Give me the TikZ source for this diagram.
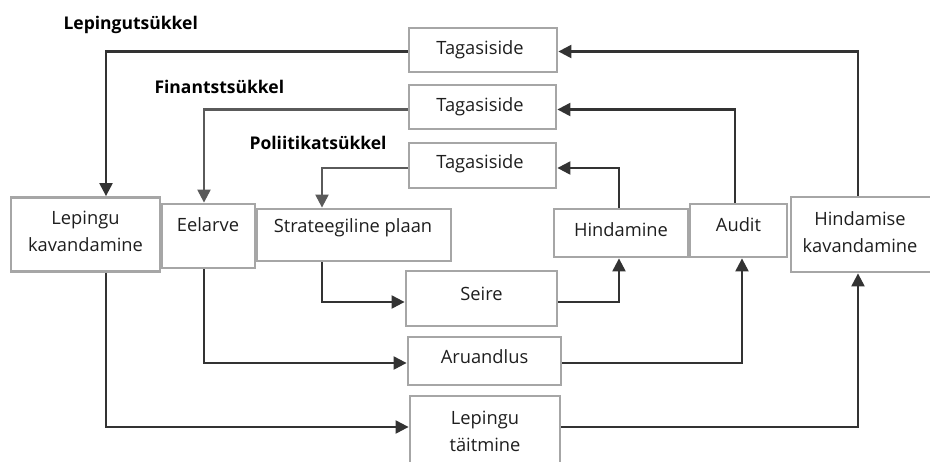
\documentclass[tikz,border=0pt]{standalone}
\usepackage{fontspec}
\setmainfont{Open Sans}
\usetikzlibrary{arrows.meta}
\definecolor{boxline}{HTML}{A6A6A6}
\definecolor{arrline}{HTML}{333333}
\definecolor{softarr}{HTML}{5A5A5A}
\definecolor{txt}{HTML}{1E1E1E}
\tikzset{
  box/.style={draw=boxline, line width=2.8pt, fill=white, rectangle, inner sep=0pt},
  boxtext/.style={text=txt, font=\fontsize{18.3}{27}\selectfont, align=center},
  cycle/.style={text=black, font=\fontsize{17.5}{20}\selectfont\bfseries, anchor=west},
  arr/.style={draw=arrline, line width=2.2pt, -{Triangle[length=13pt,width=13pt]}},
  softarrow/.style={draw=softarr, line width=2.2pt, -{Triangle[length=13pt,width=13pt]}},
}
\begin{document}
\begin{tikzpicture}[x=1pt, y=-1pt]
\useasboundingbox (0,0) rectangle (930,461);
\begin{scope}
\clip (0,0) rectangle (930,461);

% feedback boxes
\node[box, minimum width=148pt, minimum height=44pt] (tag1) at (483,50) {};
\node[box, minimum width=147pt, minimum height=44pt] (tag2) at (482.5,107) {};
\node[box, minimum width=147pt, minimum height=45pt] (tag3) at (482.5,165.5) {};

% planning row
\node[box, minimum width=149pt, minimum height=74pt] (lepk) at (85.5,234.5) {};
\node[box, minimum width=93pt, minimum height=64pt] (eel) at (208.5,236) {};
\node[box, minimum width=194pt, minimum height=52pt] (strat) at (354,235) {};
\node[box, minimum width=134pt, minimum height=48pt] (hind) at (621,233) {};
\node[box, minimum width=97pt, minimum height=53pt] (audit) at (738.5,230.5) {};
\node[box, minimum width=142pt, minimum height=75pt] (hkav) at (862,234.5) {};

% execution boxes
\node[box, minimum width=151pt, minimum height=55pt] (seire) at (481.5,298.5) {};
\node[box, minimum width=153pt, minimum height=48pt] (aru) at (484.5,361) {};
\node[box, minimum width=150pt, minimum height=70pt] (lept) at (485,431) {};

% box texts
\node[boxtext] (tag1t) at (480,50) {Tagasiside};
\node[boxtext] (tag2t) at (480,107) {Tagasiside};
\node[boxtext] (tag3t) at (480,164) {Tagasiside};
\node[boxtext] (lepkt) at (85.5,231.5) {Lepingu\\kavandamine};
\node[boxtext] (eelt) at (208,225) {Eelarve};
\node[boxtext] (stratt) at (353,228) {Strateegiline plaan};
\node[boxtext] (hindt) at (621,230) {Hindamine};
\node[boxtext] (auditt) at (738.5,225) {Audit};
\node[boxtext] (hkavt) at (860,232) {Hindamise\\kavandamine};
\node[boxtext] (seiret) at (481.5,294) {Seire};
\node[boxtext] (arut) at (484.5,357) {Aruandlus};
\node[boxtext] (leptt) at (485,431.5) {Lepingu\\täitmine};

% cycle titles
\node[cycle] (c1) at (60,25) {Lepingutsükkel};
\node[cycle] (c2) at (151,87) {Finantstsükkel};
\node[cycle] (c3) at (246,143) {Poliitikatsükkel};

% contract cycle
\draw[arr] ([xshift=-4pt]hkav.north) |- ([yshift=-1.5pt]tag1.east);
\draw[arr] ([yshift=-1.5pt]tag1.west) -| ([xshift=20.5pt]lepk.north);
\draw[arr] ([xshift=20.5pt]lepk.south) |- ([yshift=4pt]lept.west);
\draw[arr] ([yshift=4pt]lept.east) -| ([xshift=-4pt]hkav.south);

% financial cycle
\draw[arr] ([xshift=-3.5pt]audit.north) |- ([yshift=-2.5pt]tag2.east);
\draw[softarrow] ([yshift=-2.5pt]tag2.west) -| ([xshift=-4.5pt]eel.north);
\draw[arr] ([xshift=-4.5pt]eel.south) |- ([yshift=-2pt]aru.west);
\draw[arr] ([yshift=-2pt]aru.east) -| ([xshift=3.5pt]audit.south);

% policy cycle
\draw[arr] ([xshift=-2pt]hind.north) |- ([yshift=-2.5pt]tag3.east);
\draw[softarrow] ([yshift=-2.5pt]tag3.west) -| ([xshift=-32pt]strat.north);
\draw[arr] ([xshift=-32pt]strat.south) |- ([yshift=-3.5pt]seire.west);
\draw[arr] ([yshift=-3.5pt]seire.east) -| ([xshift=-2pt]hind.south);
\end{scope}
\end{tikzpicture}
\end{document}
